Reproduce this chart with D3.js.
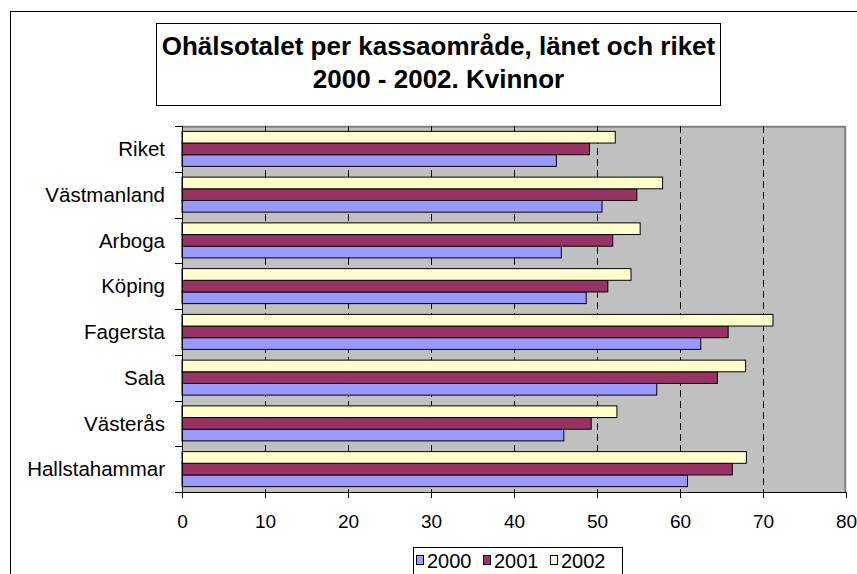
<!DOCTYPE html>
<html>
<head>
<meta charset="utf-8">
<script src="https://cdn.jsdelivr.net/npm/d3@7"></script>
<style>
  html, body { margin: 0; padding: 0; background: #fff; }
  svg { display: block; font-family: Arial, "Liberation Sans", sans-serif; }
</style>
</head>
<body>
<svg id="chart" width="857" height="574"></svg>
<script>
// Sjukskrivning (ohälsotal) för kvinnor, per område, listade uppifrån och ned
const categories = ["Riket", "Västmanland", "Arboga", "Köping", "Fagersta", "Sala", "Västerås", "Hallstahammar"];
const years = ["2000", "2001", "2002"];
const values2000 = [45.1, 50.6, 45.7, 48.7, 62.5, 57.2, 46.0, 60.9];
const values2001 = [49.1, 54.8, 51.9, 51.3, 65.8, 64.5, 49.3, 66.3];
const values2002 = [52.2, 57.9, 55.2, 54.1, 71.2, 67.9, 52.4, 68.0];
const xTicks = [0, 10, 20, 30, 40, 50, 60, 70, 80];
const titleLines = ["Ohälsotalet per kassaområde, länet och riket", "2000 - 2002. Kvinnor"];

const seriesValues = { "2000": values2000, "2001": values2001, "2002": values2002 };
const colors = { "2000": "#9999FF", "2001": "#993366", "2002": "#FFFFCC" };

const svg = d3.select("#chart");

const plot = { left: 182, right: 846, top: 126, bottom: 492 };

const x = d3.scaleLinear().domain([0, 80]).range([plot.left, plot.right]);
const y = d3.scaleBand().domain(categories).range([plot.top, plot.bottom])
  .paddingInner(0.235).paddingOuter(0.1175);
// inside each group the newest year sits on top
const ySub = d3.scaleBand().domain(["2002", "2001", "2000"]).range([0, y.bandwidth()]);
const boundary = d3.scaleLinear().domain([0, categories.length]).range([plot.top, plot.bottom]);

// outer chart frame
svg.append("rect")
  .attr("x", 10.5).attr("y", 11.5).attr("width", 900).attr("height", 600)
  .attr("fill", "#fff").attr("stroke", "#000").attr("stroke-width", 1);

// title box
const tb = { x: 156.5, y: 23.5, w: 564, h: 82 };
svg.append("rect")
  .attr("x", tb.x).attr("y", tb.y).attr("width", tb.w).attr("height", tb.h)
  .attr("fill", "#fff").attr("stroke", "#000").attr("stroke-width", 1);
svg.append("g").selectAll("text").data(titleLines).join("text")
  .attr("x", tb.x + tb.w / 2)
  .attr("y", (d, i) => 55 + i * 33)
  .attr("text-anchor", "middle")
  .attr("font-size", 26).attr("font-weight", "bold").attr("fill", "#000")
  .text(d => d);

// plot background
svg.append("rect")
  .attr("x", plot.left).attr("y", plot.top)
  .attr("width", plot.right - plot.left).attr("height", plot.bottom - plot.top)
  .attr("fill", "#C0C0C0");
// grey border on top and right
svg.append("path")
  .attr("d", `M${plot.left},${plot.top + 0.75}H${plot.right - 0.75}V${plot.bottom}`)
  .attr("fill", "none").attr("stroke", "#808080").attr("stroke-width", 2);

// dashed vertical gridlines
svg.append("g").selectAll("line").data(xTicks.filter(t => t > 0 && t < 80)).join("line")
  .attr("x1", d => Math.round(x(d)) + 0.5).attr("x2", d => Math.round(x(d)) + 0.5)
  .attr("y1", plot.top).attr("y2", plot.bottom)
  .attr("stroke", "#000").attr("stroke-width", 1).attr("stroke-dasharray", "7,4");

// bars
const groups = svg.append("g").selectAll("g").data(categories).join("g")
  .attr("transform", d => `translate(0,${y(d)})`);
groups.selectAll("rect")
  .data((c, ci) => years.map(yr => ({ year: yr, value: seriesValues[yr][ci] })))
  .join("rect")
  .attr("x", x(0))
  .attr("y", d => ySub(d.year))
  .attr("width", d => x(d.value) - x(0))
  .attr("height", ySub.bandwidth())
  .attr("fill", d => colors[d.year])
  .attr("stroke", "#000").attr("stroke-width", 1);

// x axis
const xAxis = svg.append("g")
  .attr("transform", `translate(0,${plot.bottom})`)
  .call(d3.axisBottom(x).tickValues(xTicks).tickSize(6).tickPadding(17).tickSizeOuter(0));
xAxis.select(".domain").attr("stroke", "#000");
xAxis.selectAll(".tick line").attr("stroke", "#000");
xAxis.selectAll(".tick text").attr("font-size", 19).attr("fill", "#000")
  .attr("font-family", "Arial, 'Liberation Sans', sans-serif");

// y axis: line, ticks between categories, labels centered on groups
svg.append("line")
  .attr("x1", plot.left + 0.5).attr("x2", plot.left + 0.5)
  .attr("y1", plot.top).attr("y2", plot.bottom + 1)
  .attr("stroke", "#000");
svg.append("g").selectAll("line").data(d3.range(categories.length + 1)).join("line")
  .attr("x1", plot.left - 7).attr("x2", plot.left)
  .attr("y1", d => Math.round(boundary(d)) + 0.5).attr("y2", d => Math.round(boundary(d)) + 0.5)
  .attr("stroke", "#000");
svg.append("g").selectAll("text").data(categories).join("text")
  .attr("x", 165)
  .attr("y", d => y(d) + y.bandwidth() / 2)
  .attr("dy", "0.35em")
  .attr("text-anchor", "end")
  .attr("font-size", 20.5).attr("fill", "#000")
  .text(d => d);

// legend
const legend = svg.append("g");
legend.append("rect")
  .attr("x", 413.5).attr("y", 547.5).attr("width", 209).attr("height", 40)
  .attr("fill", "#fff").attr("stroke", "#000");
const items = legend.selectAll("g").data(years).join("g")
  .attr("transform", (d, i) => `translate(${416 + i * 67},0)`);
items.append("rect")
  .attr("x", 0.5).attr("y", 555.5).attr("width", 7).attr("height", 9)
  .attr("fill", d => colors[d]).attr("stroke", "#000");
items.append("text")
  .attr("x", 11).attr("y", 568)
  .attr("font-size", 20).attr("fill", "#000")
  .text(d => d);
</script>
</body>
</html>
